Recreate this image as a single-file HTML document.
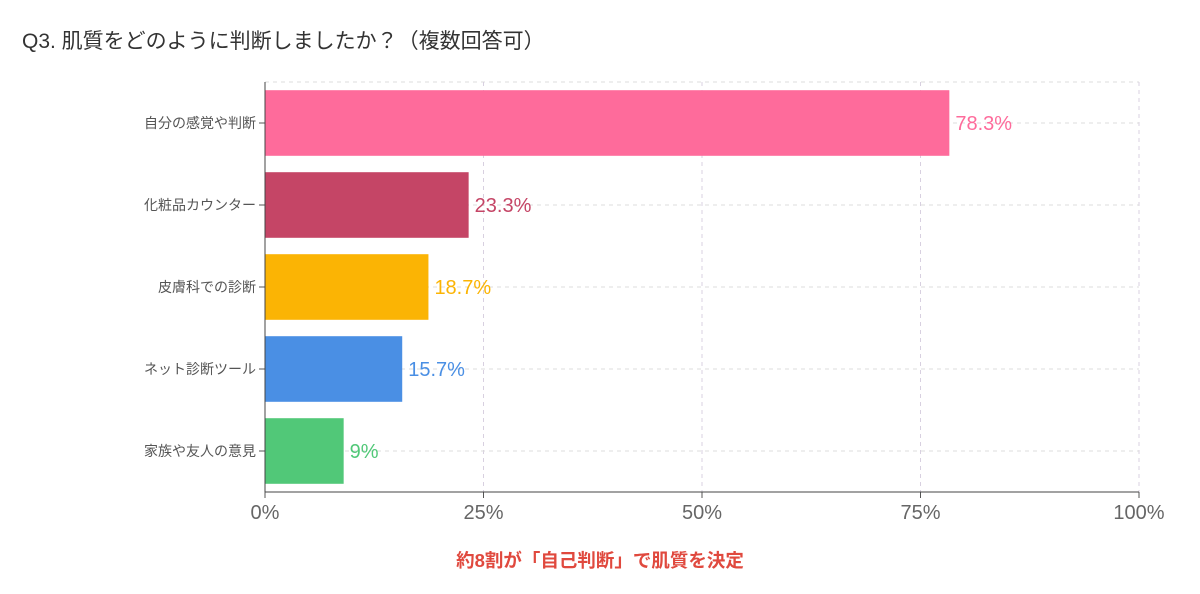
<!DOCTYPE html>
<html><head><meta charset="utf-8"><style>
body{margin:0;background:#fff;width:1200px;height:594px;overflow:hidden;font-family:"Liberation Sans","Noto Sans CJK JP",sans-serif}
</style></head><body>
<svg width="1200" height="594" style="position:absolute;left:0;top:0">
<text x="22" y="48" font-size="21" fill="#333">Q3. 肌質をどのように判断しましたか？（複数回答可）</text>
<g id="plot"></g>
<text x="600" y="567" font-size="18.5" font-weight="bold" fill="#e0493e" text-anchor="middle">約8割が「自己判断」で肌質を決定</text>
</svg>
<script>
const categories=["自分の感覚や判断","化粧品カウンター","皮膚科での診断","ネット診断ツール","家族や友人の意見"];
const values=[78.3,23.3,18.7,15.7,9];
const valueLabels=["78.3%","23.3%","18.7%","15.7%","9%"];
const colors=["#fe6b9b","#c54566","#fbb404","#4a8fe4","#51c878"];
const ticks=[0,25,50,75,100];
const tickLabels=["0%","25%","50%","75%","100%"];
const L=265,R=1139,T=82,B=492;
const x=v=>L+(R-L)*v/100;
const band=(B-T)/categories.length;
const y=i=>T+band*i;
const g=document.getElementById('plot');
const NS="http://www.w3.org/2000/svg";
function mk(t,a,txt){const e=document.createElementNS(NS,t);for(const k in a)e.setAttribute(k,a[k]);if(txt!=null)e.textContent=txt;g.appendChild(e);return e;}
let e=mk('line',{x1:L,x2:R,y1:T,y2:T,stroke:'#ddd','stroke-dasharray':'4 4'});


ticks.forEach((t,i)=>{
 if(t>0){const l=mk('line',{x1:x(t),x2:x(t),y1:T,y2:B,stroke:'#d8d0e0','stroke-dasharray':'4 4'});
 
 }
 const tk=mk('line',{x1:x(t),x2:x(t),y1:B,y2:B+6,stroke:'#555'});
 
 
 const tl=mk('text',{x:x(t),y:B+27,'font-size':20,fill:'#666','text-anchor':'middle'},tickLabels[i]);
 
 
});
categories.forEach((c,i)=>{
 const cy=y(i)+band/2;
 const gl=mk('line',{x1:L,x2:R,y1:cy,y2:cy,stroke:'#ddd','stroke-dasharray':'4 4'});
 
 
 const bh=band*0.8;
 const b=mk('rect',{x:L,y:cy-bh/2,width:x(values[i])-L,height:bh,fill:colors[i]});
 
 
 const vl=mk('text',{x:x(values[i])+6,y:cy+7,'font-size':20,fill:colors[i]},valueLabels[i]);
 
 
 const tk=mk('line',{x1:L-6,x2:L,y1:cy,y2:cy,stroke:'#555'});
 
 
 const cl=mk('text',{x:L-9,y:cy+5,'font-size':14,fill:'#555','text-anchor':'end'},c);
 
 
});
let ax=mk('line',{x1:L,x2:L,y1:T,y2:B,stroke:'#444'});


ax=mk('line',{x1:L,x2:R,y1:B,y2:B,stroke:'#444'});


</script>
</body></html>
